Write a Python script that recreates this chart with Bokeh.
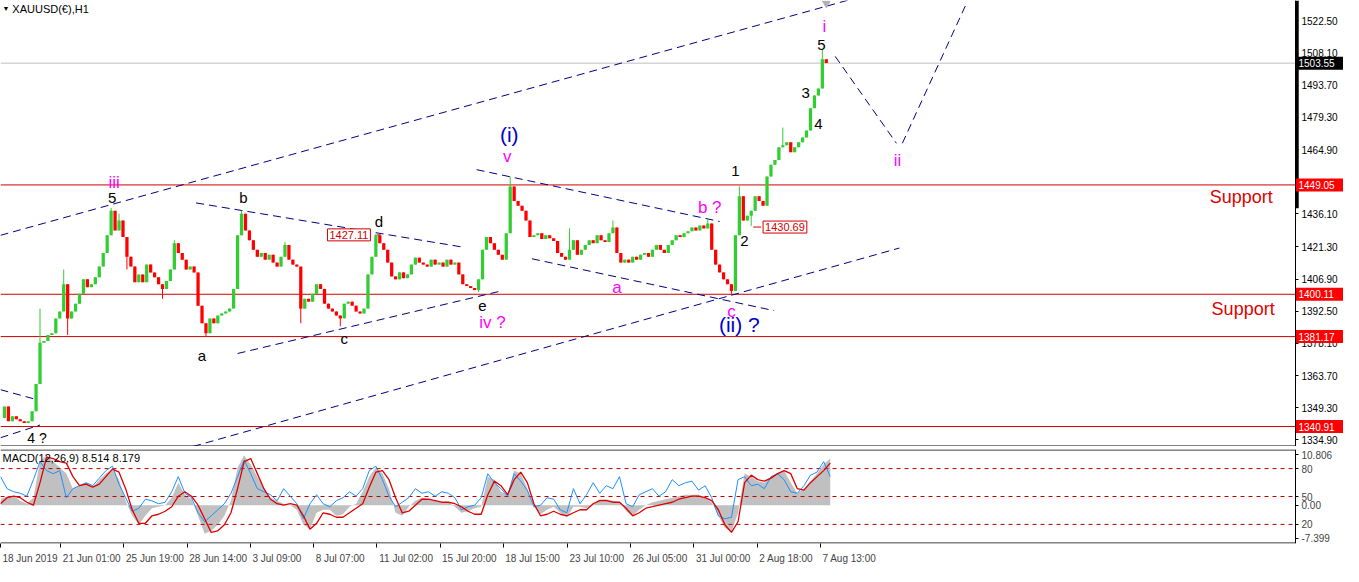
from bokeh.plotting import figure
from bokeh.layouts import column
from bokeh.models import Range1d, FixedTicker, Label, ColumnDataSource, PrintfTickFormatter
from bokeh.core.properties import value
from bokeh.embed import file_html
from bokeh.resources import INLINE

# ---------------- data ----------------
BAR_STEP = 4  # hourly bars sampled every 4 bars
close = [
    1344.7, 1349.9, 1343.3, 1345.5, 1344.2, 1343.3, 1342.5, 1343.3, 1347.7, 1360.0,
    1378.4, 1379.2, 1381.9, 1382.7, 1389.3, 1392.4, 1404.6, 1389.3, 1392.4, 1395.9,
    1400.3, 1406.8, 1403.3, 1404.6, 1407.7, 1412.5, 1418.6, 1426.5, 1437.5, 1428.7,
    1433.1, 1425.7, 1416.9, 1412.5, 1405.5, 1409.0, 1405.5, 1413.4, 1409.9, 1407.7,
    1404.6, 1402.5, 1406.0, 1411.2, 1423.0, 1418.6, 1415.6, 1411.2, 1412.5, 1409.9,
    1395.0, 1387.1, 1382.7, 1389.3, 1387.1, 1390.6, 1391.5, 1392.4, 1393.7, 1402.5,
    1426.5, 1436.2, 1428.7, 1424.3, 1420.0, 1416.9, 1418.6, 1415.6, 1417.8, 1414.3,
    1412.5, 1416.9, 1422.2, 1415.6, 1413.4, 1412.5, 1393.7, 1398.1, 1396.8, 1400.3,
    1404.6, 1402.5, 1395.9, 1393.7, 1392.4, 1390.6, 1389.3, 1395.9, 1396.8, 1395.0,
    1392.4, 1391.5, 1393.7, 1409.0, 1416.9, 1426.5, 1423.0, 1420.0, 1414.3, 1408.1,
    1406.8, 1409.9, 1407.3, 1409.0, 1413.4, 1416.5, 1414.3, 1413.4, 1412.5, 1415.6,
    1413.4, 1414.3, 1412.5, 1415.6, 1413.4, 1414.3, 1409.0, 1404.6, 1403.8, 1402.9,
    1402.0, 1406.8, 1420.0, 1425.7, 1423.0, 1420.0, 1417.8, 1415.6, 1427.4, 1448.4,
    1441.9, 1439.7, 1437.5, 1433.1, 1425.7, 1426.5, 1427.4, 1424.8, 1426.5, 1425.2,
    1423.9, 1418.6, 1416.9, 1415.6, 1420.0, 1424.3, 1417.8, 1420.0, 1422.2, 1424.3,
    1423.0, 1426.5, 1424.3, 1423.5, 1427.4, 1430.0, 1418.6, 1414.3, 1415.6, 1414.3,
    1416.9, 1415.6, 1417.8, 1418.6, 1416.9, 1420.0, 1422.2, 1420.0, 1418.6, 1422.2,
    1424.3, 1426.5, 1425.7, 1427.4, 1428.3, 1430.0, 1428.7, 1430.9, 1429.6, 1431.8,
    1420.0, 1413.4, 1409.9, 1406.8, 1404.6, 1401.6, 1426.5, 1444.0, 1433.1, 1435.3,
    1437.5, 1444.0, 1441.9, 1439.7, 1452.8, 1458.1, 1460.2, 1465.9, 1466.8, 1468.1,
    1463.7, 1465.9, 1468.1, 1470.3, 1473.4, 1483.4, 1489.1, 1492.2, 1505.3, 1503.6,
]
spike_bar = [40, 64, 68, 112, 120, 128, 164, 176, 208, 244, 288, 304, 344, 380,
             484, 516, 576, 620, 716, 740, 748, 760, 792, 832]
spike_price = [1393.7, 1411.2, 1381.9, 1438.8, 1436.2, 1411.2, 1398.1, 1424.3, 1381.4,
               1437.5, 1423.5, 1387.1, 1385.8, 1427.1, 1401.1, 1452.8, 1429.6, 1433.1,
               1434.0, 1400.3, 1448.4, 1430.69, 1474.7, 1509.7]

support_levels = [1449.05, 1400.11, 1381.17, 1340.91]
last_price = 1503.55
price_ticks = [1522.50, 1508.10, 1493.70, 1479.30, 1464.90, 1436.10, 1421.30,
               1406.90, 1392.50, 1378.10, 1363.70, 1349.30, 1334.90]

time_ticks = [0, 61, 125, 189, 253, 317, 381, 445, 509, 574, 638, 702, 766, 830]
time_labels = ["18 Jun 2019", "21 Jun 01:00", "25 Jun 19:00", "28 Jun 14:00",
               "3 Jul 09:00", "8 Jul 07:00", "11 Jul 02:00", "15 Jul 20:00",
               "18 Jul 15:00", "23 Jul 10:00", "26 Jul 05:00", "31 Jul 00:00",
               "2 Aug 18:00", "7 Aug 13:00"]

MACD_STEP = 20 / 3
macd_hist = [
    1.17, 1.76, 1.76, 0.88, 0.29, 1.47, 8.54, 9.71, 8.54, 7.36,
    6.18, 3.24, 3.82, 4.41, 3.53, 5.00, 6.18, 7.06, 5.00, 0.88,
    -2.07, -3.83, -2.07, -0.59, -0.30, 0.0, 1.47, 4.41, 2.06, 1.17,
    -2.07, -5.60, -5.01, -3.83, -2.07, 0.88, 7.36, 9.71, 7.95, 5.59,
    3.24, 1.47, 0.88, 0.29, 0.0, -0.89, -3.83, -4.72, -1.48, -0.89,
    -0.89, -2.07, -1.77, -0.30, 0.29, 2.65, 5.59, 7.36, 6.18, 3.24,
    -1.48, -2.07, -0.30, 0.88, 1.47, 1.17, 0.88, 0.58,
    0.58, -0.30, -1.48, -1.18, -0.59, -0.30, 5.59, 5.00, 2.65, 2.06,
    6.77, 6.18, 3.24, -0.30, -1.77, -0.89, -0.30, -1.48, -2.36, -0.30,
    -0.30, -0.59, 0.29, 1.17, 1.17, 0.88, 0.58, -1.18, -2.07, -0.89,
    0.0, 0.58, 0.88, 1.17, 1.47, 1.76, 2.06, 2.06, 2.06, 1.47,
    0.58, -2.07, -4.42, -5.31, -1.48, 6.18, 5.59, 4.71, 4.41, 5.59,
    6.18, 6.77, 4.41, 2.35, 3.24, 4.71, 6.18, 7.95, 9.13,
]
macd_signal = [
    0.29, 1.47, 1.76, 1.47, 0.58, 0.0, 4.41, 9.42, 9.13, 8.54,
    8.24, 5.59, 3.82, 4.12, 3.53, 4.12, 5.59, 7.06, 6.47, 3.24,
    -0.89, -3.54, -3.54, -2.07, -1.77, -1.18, -0.30, 1.76, 2.65, 1.76,
    0.0, -2.66, -5.31, -5.01, -3.83, -1.48, 3.24, 8.54, 9.13, 6.18,
    3.24, 1.17, 0.29, 0.0, 0.29, 0.0, -2.07, -4.72, -3.54, -1.48,
    -1.77, -2.36, -2.36, -1.48, -0.59, 0.29, 3.53, 6.47, 6.77, 5.00,
    1.47, -1.48, -1.18, 0.0, 1.17, 1.17, 0.88, 0.58,
    0.58, 0.29, -0.30, -1.18, -1.77, -1.77, 2.06, 4.71, 3.82, 2.06,
    5.00, 6.47, 4.41, 0.29, -2.07, -1.77, -1.18, -1.77, -2.07, -1.48,
    -0.89, -0.89, 0.29, 0.88, 0.88, 0.58, 0.58, -0.59, -2.07, -1.48,
    -0.59, -0.30, 0.0, 0.29, 0.58, 1.17, 1.47, 1.76, 1.76, 1.47,
    0.88, -0.89, -3.83, -5.31, -3.24, 4.41, 5.88, 5.00, 4.71, 5.30,
    6.18, 6.77, 6.18, 3.24, 2.94, 4.41, 5.59, 6.77, 8.24,
]
stoch = [
    71.3, 58.4, 55.1, 53.5, 50.3, 68.1, 87.5, 77.8, 74.5, 77.8,
    48.7, 58.4, 61.6, 64.8, 61.6, 69.7, 77.8, 82.6, 63.2, 48.7,
    34.1, 37.3, 47.1, 45.4, 42.2, 43.8, 55.1, 71.3, 53.5, 48.7,
    32.5, 22.8, 29.3, 35.7, 42.2, 53.5, 71.3, 89.1, 74.5, 58.4,
    55.1, 51.9, 45.4, 58.4, 50.3, 42.2, 26.0, 42.2, 51.9, 42.2,
    39.0, 45.4, 48.7, 55.1, 50.3, 58.4, 77.8, 82.6, 68.1, 50.3,
    39.0, 43.8, 48.7, 58.4, 53.5, 55.1, 50.3, 55.1,
    53.5, 48.7, 35.7, 39.0, 40.6, 48.7, 74.5, 64.8, 58.4, 50.3,
    74.5, 66.5, 56.8, 39.0, 40.6, 48.7, 47.1, 35.7, 32.5, 58.4,
    42.2, 51.9, 64.8, 53.5, 61.6, 58.4, 71.3, 42.2, 39.0, 51.9,
    55.1, 58.4, 50.3, 55.1, 68.1, 61.6, 64.8, 66.5, 56.8, 61.6,
    48.7, 29.3, 26.0, 27.6, 68.1, 71.3, 61.6, 63.2, 58.4, 71.3,
    74.5, 68.1, 55.1, 53.5, 61.6, 72.9, 76.2, 87.5, 71.3,
]
macd_lo, macd_hi = -7.399, 10.806
stoch_levels = [80, 50, 20]

# annotations: (text, bar, price, colour, size)
wave_labels = [
    ("iii", 115, 1450.2, "#ff00ff", "17px"), ("5", 113, 1443.0, "black", "15px"),
    ("b", 246, 1443.6, "black", "15px"), ("d", 383, 1432.7, "black", "15px"),
    ("a", 204, 1372.7, "black", "15px"), ("c", 348, 1380.1, "black", "15px"),
    ("e", 488, 1395.0, "black", "15px"), ("iv ?", 498, 1387.6, "#ff00ff", "17px"),
    ("(i)", 515, 1471.6, "#0000cd", "21px"), ("v", 513, 1461.6, "#ff00ff", "17px"),
    ("b ?", 718, 1438.8, "#ff00ff", "17px"), ("a", 624, 1403.0, "#ff00ff", "17px"),
    ("c", 740, 1392.4, "#ff00ff", "17px"), ("(ii) ?", 748, 1386.7, "#0000cd", "21px"),
    ("1", 744, 1455.4, "black", "15px"), ("2", 753, 1423.9, "black", "15px"),
    ("3", 815, 1490.4, "black", "15px"), ("4", 828, 1476.4, "black", "15px"),
    ("5", 831, 1511.9, "black", "15px"), ("i", 834, 1519.8, "#ff00ff", "17px"),
    ("ii", 908, 1459.8, "#ff00ff", "17px"), ("4 ?", 37, 1335.6, "black", "14px"),
    ("Support", 1256, 1443.6, "#e00000", "18px"), ("Support", 1258, 1393.3, "#e00000", "18px"),
]
trend_lines = [
    ((0, 1426.5), (870, 1533.2)), ((195, 1332.0), (910, 1420.8)),
    ((0, 1357.4), (33, 1353.4)), ((0, 1335.9), (40, 1341.6)),
    ((198, 1441.0), (467, 1421.3)), ((240, 1373.6), (507, 1401.6)),
    ((482, 1455.9), (728, 1432.7)), ((538, 1416.0), (783, 1392.8)),
    ((845, 1506.6), (907, 1467.7)), ((913, 1467.7), (977, 1529.4)),
]
price_tags = [("1427.11", 329, 1426.7, 381, 385), ("1430.69", 770, 1430.2, 762, 770)]

# ---------------- build ----------------
FONT = "Liberation Sans"
W = 1343
AXIS_X = 1311            # bar position of the price scale
X_END = 1359.6           # right edge of the canvas, in bar units
MAIN_H = 446
Y_BOT, Y_TOP = 1332.2, 1531.6
PX = (Y_TOP - Y_BOT) / MAIN_H   # price per pixel

n = len(close)
xs = [i * BAR_STEP for i in range(n)]
opens = [close[0]] + close[:-1]
highs = [max(o, c) for o, c in zip(opens, close)]
lows = [min(o, c) for o, c in zip(opens, close)]
for b, sp in zip(spike_bar, spike_price):
    i = b // BAR_STEP
    if i < n:
        highs[i] = max(highs[i], sp)
        lows[i] = min(lows[i], sp)
colors = ["#32cd32" if c >= o else "#ff0000" for o, c in zip(opens, close)]
src = ColumnDataSource(dict(x=xs, o=opens, c=close, h=highs, l=lows,
                            top=[max(o, c) for o, c in zip(opens, close)],
                            bot=[min(o, c) for o, c in zip(opens, close)], col=colors))

p = figure(width=W, height=MAIN_H, x_range=Range1d(0, X_END),
           y_range=Range1d(Y_BOT - 0.5 * PX, Y_TOP),
           output_backend="svg", toolbar_location=None, y_axis_location="right",
           x_axis_location=None, min_border_left=0, min_border_top=0, min_border_bottom=0,
           min_border_right=0)
p.xgrid.visible = False
p.ygrid.visible = False
p.outline_line_color = None
p.background_fill_color = "white"

ya = p.yaxis[0]
ya.fixed_location = AXIS_X
ya.ticker = FixedTicker(ticks=price_ticks)
ya.formatter = PrintfTickFormatter(format="%.2f")
ya.major_label_text_font = FONT
ya.major_label_text_font_size = "10px"
ya.major_label_text_color = "black"
ya.major_tick_out = 3
ya.major_tick_in = 0
ya.minor_tick_line_color = None
ya.axis_line_color = "black"
ya.major_label_standoff = 3

# bottom border of the price window and the bold part of the price scale
p.line([0, AXIS_X], [Y_BOT, Y_BOT], line_color="black", line_width=1)
p.line([AXIS_X + 1.5, AXIS_X + 1.5], [Y_TOP - 208 * PX, Y_TOP], line_color="black", line_width=3.5)

for lvl in support_levels:
    p.line([0, AXIS_X], [lvl, lvl], line_color="#d00000", line_width=1)
p.line([0, AXIS_X], [last_price, last_price], line_color="#c0c0c0", line_width=1)

for (x0, y0), (x1, y1) in trend_lines:
    p.line([x0, x1], [y0, y1], line_color="#000080", line_width=1, line_dash="8 5")

p.segment(x0="x", y0="l", x1="x", y1="h", source=src, line_color="col", line_width=1)
p.vbar(x="x", width=3.3, top="top", bottom="bot", source=src, fill_color="col", line_color=None)

p.scatter([836], [1530.3], marker="inverted_triangle", size=9, fill_color="#b0b0b0", line_color=None)

for txt, x, y, col, sz in wave_labels:
    p.add_layout(Label(x=x, y=y, text=txt, text_color=col, text_font=FONT, text_font_size=sz,
                       text_align="center", text_baseline="middle"))

for txt, x, y, lx0, lx1 in price_tags:
    p.line([lx0, lx1], [y, y], line_color="#d00000", line_width=1)
    p.add_layout(Label(x=x + 2, y=y, text=txt, text_color="#d00000", text_font=FONT,
                       text_font_size="11px", text_align="left", text_baseline="middle",
                       background_fill_color="white", border_line_color="#d00000",
                       padding=2))

# price boxes on the price scale
box_levels = support_levels + [last_price]
box_colors = ["#ff0000"] * len(support_levels) + ["black"]
half = 6.5 * PX
p.quad(left=[AXIS_X + 0.5] * len(box_levels), right=[X_END] * len(box_levels),
       bottom=[v - half for v in box_levels], top=[v + half for v in box_levels],
       fill_color=box_colors, line_color=None, level="overlay")
p.text(x=[AXIS_X + 3] * len(box_levels), y=box_levels, text=[f"{v:.2f}" for v in box_levels],
       text_color="white", text_font=value(FONT), text_font_size="10px",
       text_align="left", text_baseline="middle", level="overlay")

p.add_layout(Label(x=2, y=1528.0, text="▼", text_color="black", text_font=FONT,
                   text_font_size="7px", text_align="left", text_baseline="middle"))
p.add_layout(Label(x=12, y=1528.0, text="XAUUSD(€),H1", text_color="black", text_font=FONT,
                   text_font_size="11px", text_align="left", text_baseline="middle"))

# ---------------- MACD window ----------------
mx = [i * MACD_STEP for i in range(len(macd_hist))]
stoch_v = [macd_lo + s / 100 * (macd_hi - macd_lo) for s in stoch]
lvl_v = [macd_lo + s / 100 * (macd_hi - macd_lo) for s in stoch_levels]

M_H = 566 - MAIN_H - 3
MPX = (macd_hi - macd_lo) / (M_H - 20)
m = figure(width=W, height=M_H, x_range=p.x_range,
           y_range=Range1d(macd_lo - 0.5 * MPX, macd_hi + 0.5 * MPX),
           output_backend="svg", toolbar_location=None, y_axis_location="right",
           min_border_left=0, min_border_top=0, min_border_bottom=0, min_border_right=0)
m.xgrid.visible = False
m.ygrid.visible = False
m.outline_line_color = None

m.varea(x=mx, y1=[0] * len(mx), y2=macd_hist, fill_color="#c0c0c0")
for v in lvl_v:
    m.line([0, AXIS_X], [v, v], line_color="#c00000", line_width=1, line_dash="4 4")
m.line(mx, stoch_v, line_color="#1e90ff", line_width=1)
m.line(mx, macd_signal, line_color="#e00000", line_width=1.3)
m.line([0, AXIS_X], [macd_hi, macd_hi], line_color="black", line_width=1)
m.line([0, AXIS_X], [macd_lo, macd_lo], line_color="black", line_width=1)

m.add_layout(Label(x=2, y=9.3, text="MACD(12,26,9) 8.514 8.179", text_color="black",
                   text_font=FONT, text_font_size="11px", text_align="left",
                   text_baseline="middle"))

my = m.yaxis[0]
my.fixed_location = AXIS_X
ytick_vals = [9.9, lvl_v[0], lvl_v[1], 0.0, lvl_v[2], -6.5]
ytick_txt = ["10.806", "80", "50", "0.00", "20", "-7.399"]
my.ticker = FixedTicker(ticks=ytick_vals)
my.major_label_overrides = {v: t for v, t in zip(ytick_vals, ytick_txt)}
my.major_label_text_font = FONT
my.major_label_text_font_size = "10px"
my.major_tick_out = 3
my.major_tick_in = 0
my.minor_tick_line_color = None
my.axis_line_color = "black"
my.major_label_standoff = 3

# time axis: tick marks at the bar positions (minor ticks), labels start just right of them
upx = X_END / W
label_px = [55, 58, 58, 58, 49, 49, 54.5, 54.5, 54.5, 54.5, 54.5, 54.5, 54, 54]
label_pos = [t + (2 + w / 2) * upx for t, w in zip(time_ticks, label_px)]
mxa = m.xaxis[0]
mxa.ticker = FixedTicker(ticks=label_pos, minor_ticks=time_ticks)
mxa.major_label_overrides = {lp: s for lp, s in zip(label_pos, time_labels)}
mxa.major_label_text_font = FONT
mxa.major_label_text_font_size = "10px"
mxa.major_tick_line_color = None
mxa.minor_tick_line_color = "black"
mxa.minor_tick_out = 4
mxa.minor_tick_in = 0
mxa.axis_line_color = None
mxa.major_label_standoff = 3

layout = column(p, m, spacing=3)
with open("out.html", "w", encoding="utf-8") as f:
    f.write(file_html(layout, INLINE))
